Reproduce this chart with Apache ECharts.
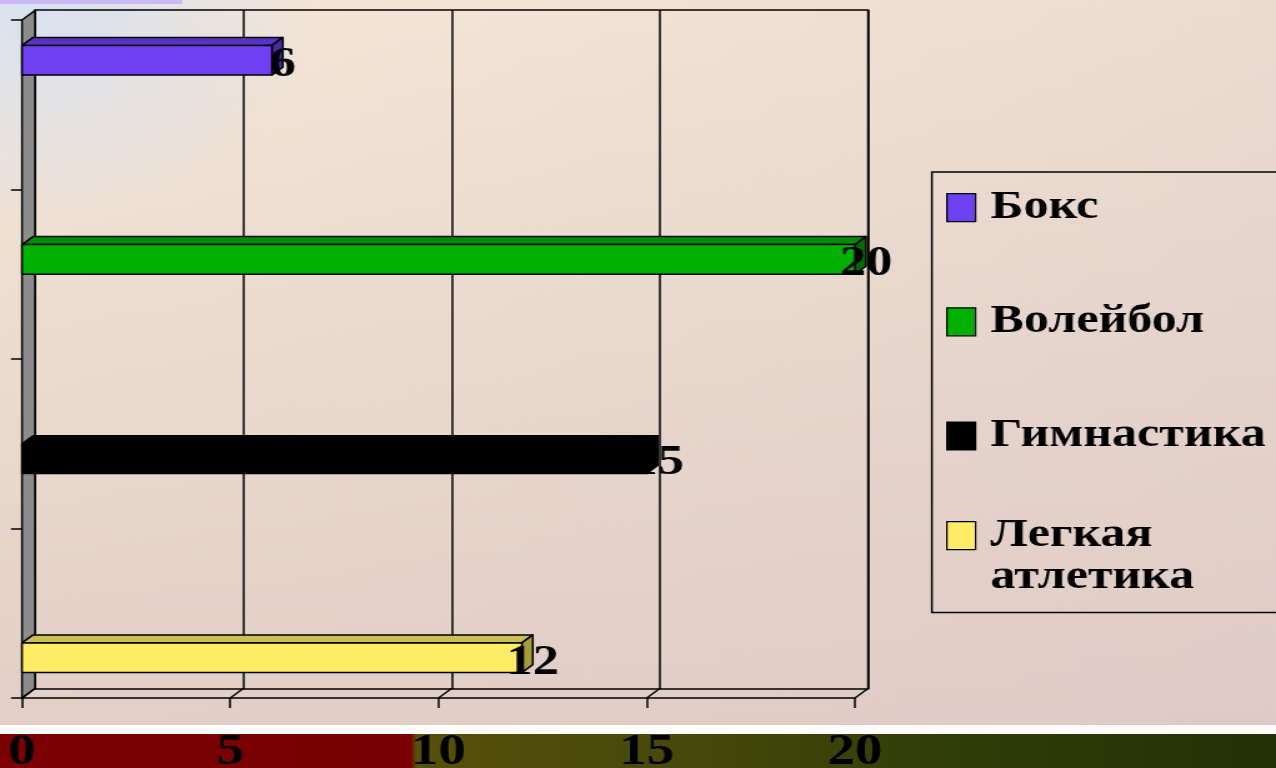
<!DOCTYPE html>
<html>
<head>
<meta charset="utf-8">
<title>Секции</title>
<script src="https://cdn.jsdelivr.net/npm/echarts@6/dist/echarts.min.js"></script>
<style>
  html, body { margin: 0; padding: 0; overflow: hidden; }
  /* слайд 4:3 растянут по ширине, как на исходной картинке */
  #chart { width: 1021px; height: 768px; transform: scaleX(1.2498); transform-origin: 0 0; }
</style>
</head>
<body>
<div id="chart"></div>
<script>
// данные
const categories = ['Бокс', 'Волейбол', 'Гимнастика', 'Легкая атлетика'];
const values = [6, 20, 15, 12];
const xTicks = [0, 5, 10, 15, 20];

// цвета граней: перед, верх, бок
const frontColors = ['#6f3ff2', '#00b000', '#000000', '#ffec66'];
const topColors = ['#5a32c8', '#008c00', '#000000', '#cdbf52'];
const sideColors = ['#4a28a6', '#006a00', '#000000', '#a59a3c'];

const FONT = '"Liberation Serif", "Times New Roman", serif';
const DX = 10.4, DY = 9.5;    // глубина стенок
const BDX = 8.8, BDY = 8;     // глубина столбиков

const chart = echarts.init(document.getElementById('chart'));

// стенки и пол
const wallSeries = {
  type: 'custom',
  xAxisIndex: 0,
  yAxisIndex: 0,
  silent: true,
  z: 1,
  clip: false,
  data: [[0, 0]],
  renderItem(params, api) {
    const cs = params.coordSys;
    const l = cs.x, t = cs.y, b = cs.y + cs.height;
    const children = [{
      type: 'polygon',
      shape: { points: [[l, t], [l + DX, t - DY], [l + DX, b - DY], [l, b]] },
      style: { fill: '#8c8c8c', stroke: '#000', lineWidth: 1.5 }
    }];
    xTicks.forEach(v => {
      const x = api.coord([v, 0])[0];
      children.push({
        type: 'line',
        shape: { x1: x, y1: b, x2: x + DX, y2: b - DY },
        style: { stroke: '#000', lineWidth: 1.5 }
      });
    });
    return { type: 'group', children };
  }
};

function barSeries(i) {
  return {
    type: 'custom',
    name: categories[i],
    xAxisIndex: 0,
    yAxisIndex: 0,
    z: 3,
    clip: false,
    itemStyle: { color: frontColors[i] },
    encode: { x: 0, y: 1 },
    data: [[values[i], i]],
    renderItem(params, api) {
      const val = api.value(0), cat = api.value(1);
      const p0 = api.coord([0, cat]);
      const p1 = api.coord([val, cat]);
      const band = api.size([0, 1])[1];
      const w = band * 0.175;
      const cy = p0[1] + (i - 1.5) * w;
      const yT = cy - w / 2, yB = cy + w / 2;
      const x0 = p0[0], x1 = p1[0];
      const edge = { stroke: '#000', lineWidth: 1.5, lineJoin: 'round' };
      return {
        type: 'group',
        children: [
          { type: 'polygon',
            shape: { points: [[x0, yT], [x1, yT], [x1 + BDX, yT - BDY], [x0 + BDX, yT - BDY]] },
            style: Object.assign({ fill: topColors[i] }, edge) },
          { type: 'polygon',
            shape: { points: [[x1, yT], [x1 + BDX, yT - BDY], [x1 + BDX, yB - BDY], [x1, yB]] },
            style: Object.assign({ fill: sideColors[i] }, edge) },
          { type: 'rect',
            shape: { x: x0, y: yT, width: x1 - x0, height: w },
            style: Object.assign({ fill: frontColors[i] }, edge) },
          { type: 'text',
            style: {
              text: String(val),
              x: x1 + BDX, y: cy + 5,
              align: 'center', verticalAlign: 'middle',
              font: 'bold 42px ' + FONT,
              fill: '#000'
            } }
        ]
      };
    }
  };
}

// значок легенды: квадрат посередине или вверху высокой ячейки
const iconMid = 'path://M0,0L0.01,0M0,21L23,21L23,49L0,49ZM0,70L0.01,70';
const iconTop = 'path://M0,0L23,0L23,28L0,28ZM0,70L0.01,70';

const option = {
  animation: false,
  graphic: [
    { type: 'rect', z: -20, silent: true,
      shape: { x: 0, y: 0, width: 1021, height: 768 },
      style: { fill: { type: 'linear', x: 0, y: 0, x2: 0, y2: 1, colorStops: [
        { offset: 0, color: '#f6e8d8' },
        { offset: 0.45, color: '#ecdccf' },
        { offset: 0.95, color: '#e2cfc7' }] } } },
    { type: 'rect', z: -19, silent: true,
      shape: { x: 0, y: 0, width: 1021, height: 768 },
      style: { fill: { type: 'radial', x: 0.03, y: 0, r: 0.3, colorStops: [
        { offset: 0, color: 'rgba(216,226,242,1)' },
        { offset: 1, color: 'rgba(216,226,242,0)' }] } } },
    { type: 'rect', z: -19, silent: true,
      shape: { x: 0, y: 0, width: 1021, height: 768 },
      style: { fill: { type: 'linear', x: 0, y: 0, x2: 1, y2: 0, colorStops: [
        { offset: 0, color: 'rgba(220,200,200,0)' },
        { offset: 1, color: 'rgba(215,196,196,0.35)' }] } } },
    { type: 'rect', z: -18, silent: true,
      shape: { x: 0, y: 0, width: 145.6, height: 4 },
      style: { fill: '#c9b9f5' } },
    { type: 'rect', z: -18, silent: true,
      shape: { x: 0, y: 725, width: 1021, height: 9 },
      style: { fill: '#fdfcfa' } },
    { type: 'rect', z: -18, silent: true,
      shape: { x: 0, y: 734, width: 1021, height: 34 },
      style: { fill: { type: 'linear', x: 0, y: 0, x2: 1, y2: 0, colorStops: [
        { offset: 0, color: '#7a0003' },
        { offset: 0.322, color: '#780004' },
        { offset: 0.326, color: '#57500a' },
        { offset: 0.55, color: '#46480b' },
        { offset: 0.75, color: '#2f3d08' },
        { offset: 1, color: '#223206' }] } } }
  ],
  legend: {
    orient: 'vertical',
    left: 745.6,
    top: 172,
    padding: [0, 90, 14, 11.4],
    itemGap: 43,
    itemWidth: 23,
    itemHeight: 70,
    borderColor: '#000',
    borderWidth: 1.5,
    itemStyle: { borderColor: '#000', borderWidth: 1.2 },
    textStyle: {
      fontSize: 40, fontWeight: 'bold', fontFamily: FONT, color: '#000',
      lineHeight: 42, padding: [0, 0, 0, 7]
    },
    data: [
      { name: categories[0], icon: iconMid },
      { name: categories[1], icon: iconMid },
      { name: categories[2], icon: iconMid },
      { name: categories[3], icon: iconTop }
    ],
    formatter: name => name === 'Легкая атлетика' ? 'Легкая\nатлетика' : name
  },
  grid: [
    { left: 17.6, right: 336.9, top: 20, bottom: 70, outerBoundsMode: 'none', containLabel: false },
    { left: 28, right: 326.5, top: 10, bottom: 79, outerBoundsMode: 'none', show: true,
      borderColor: '#000', borderWidth: 1.5, backgroundColor: 'transparent' }
  ],
  xAxis: [
    { type: 'value', gridIndex: 0, min: 0, max: 20, interval: 5,
      axisLine: { show: true, lineStyle: { color: '#000', width: 1.5 } },
      axisTick: { show: true, length: 10, lineStyle: { color: '#000', width: 1.5 } },
      splitLine: { show: false },
      axisLabel: { margin: 33, fontSize: 44, fontWeight: 'bold', fontFamily: FONT, color: '#000' } },
    { type: 'value', gridIndex: 1, min: 0, max: 20, interval: 5,
      axisLine: { show: false }, axisTick: { show: false }, axisLabel: { show: false },
      splitLine: { show: true, lineStyle: { color: '#000', width: 1.5 } } }
  ],
  yAxis: [
    { type: 'category', gridIndex: 0, inverse: true, data: categories,
      axisLine: { show: true, lineStyle: { color: '#000', width: 1.5 } },
      axisTick: { show: true, length: 8.8, lineStyle: { color: '#000', width: 1.5 } },
      axisLabel: { show: false }, splitLine: { show: false } },
    { type: 'category', gridIndex: 1, inverse: true, data: categories,
      axisLine: { show: false }, axisTick: { show: false },
      axisLabel: { show: false }, splitLine: { show: false } }
  ],
  series: [wallSeries].concat(categories.map((c, i) => barSeries(i)))
};

chart.setOption(option);
</script>
</body>
</html>
